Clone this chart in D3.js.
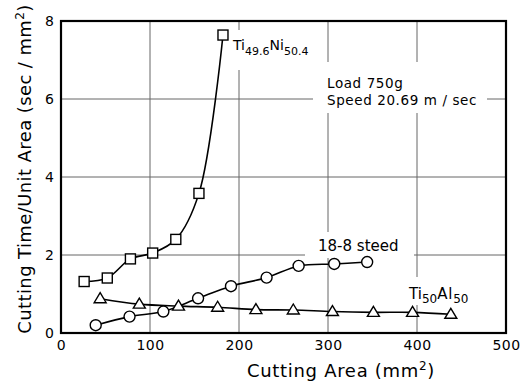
<!DOCTYPE html>
<html>
<head>
<meta charset="utf-8">
<script src="https://cdn.jsdelivr.net/npm/d3@7"></script>
<style>
  body { margin: 0; background: #fff; }
  svg { font-family: 'DejaVu Sans', sans-serif; }
</style>
</head>
<body>
<div id="chart"></div>
<script>
// Ti49.6Ni50.4 (squares)
const tiNiX = [26, 52, 78, 103, 129, 155, 182];
const tiNiY = [1.32, 1.41, 1.9, 2.05, 2.4, 3.58, 7.64];
// 18-8 steed (circles)
const steelX = [39, 77, 115, 154, 191, 231, 267, 307, 344];
const steelY = [0.2, 0.42, 0.55, 0.89, 1.2, 1.42, 1.72, 1.77, 1.82];
// Ti50Al50 (triangles)
const tiAlX = [44, 88, 132, 176, 219, 261, 305, 351, 395, 438];
const tiAlY = [0.88, 0.74, 0.69, 0.66, 0.6, 0.59, 0.55, 0.53, 0.53, 0.48];

const xTicks = [0, 100, 200, 300, 400, 500];
const yTicks = [0, 2, 4, 6, 8];

const width = 529, height = 388;
const margin = { top: 21, right: 23, bottom: 55, left: 61 };

const svg = d3.select('#chart')
  .append('svg')
  .attr('width', width)
  .attr('height', height);

const x = d3.scaleLinear()
  .domain([0, 500])
  .range([margin.left, width - margin.right]);

const y = d3.scaleLinear()
  .domain([0, 8])
  .range([height - margin.bottom, margin.top]);

// grid
svg.append('g')
  .selectAll('line')
  .data(xTicks.slice(1, -1))
  .enter()
  .append('line')
  .attr('x1', d => x(d)).attr('x2', d => x(d))
  .attr('y1', y(8)).attr('y2', y(0))
  .attr('stroke', '#666')
  .attr('stroke-width', 1);

svg.append('g')
  .selectAll('line')
  .data(yTicks.slice(1, -1))
  .enter()
  .append('line')
  .attr('x1', x(0)).attr('x2', x(500))
  .attr('y1', d => y(d)).attr('y2', d => y(d))
  .attr('stroke', '#666')
  .attr('stroke-width', 1);

// white patches behind the labels
function patch(x0, y0, x1, y1) {
  svg.append('rect')
    .attr('x', x0).attr('y', y0)
    .attr('width', x1 - x0).attr('height', y1 - y0)
    .attr('fill', '#fff');
}
patch(229, 30, 318, 70);
patch(313, 62, 487, 113);
patch(305, 232, 414, 258);
patch(403, 277, 475, 305);

// frame
svg.append('rect')
  .attr('x', x(0)).attr('y', y(8))
  .attr('width', x(500) - x(0))
  .attr('height', y(0) - y(8))
  .attr('fill', 'none')
  .attr('stroke', '#000')
  .attr('stroke-width', 2.2);

// axes
const xAxis = svg.append('g')
  .attr('transform', `translate(0,${y(0)})`)
  .call(d3.axisBottom(x).tickValues(xTicks).tickSize(0).tickPadding(7));
xAxis.select('.domain').remove();
xAxis.selectAll('text').style('font-size', '14px').style('font-family', 'DejaVu Sans')
  .style('letter-spacing', '0.5px').attr('fill', '#000');

const yAxis = svg.append('g')
  .attr('transform', `translate(${x(0)},0)`)
  .call(d3.axisLeft(y).tickValues(yTicks).tickSize(0).tickPadding(7));
yAxis.select('.domain').remove();
yAxis.selectAll('text').style('font-size', '14px').style('font-family', 'DejaVu Sans').attr('fill', '#000');

// axis titles
const xt = svg.append('text')
  .attr('x', 341).attr('y', 377)
  .attr('text-anchor', 'middle')
  .style('font-size', '18px')
  .style('letter-spacing', '0.7px');
xt.append('tspan').text('Cutting Area (mm');
xt.append('tspan').attr('dy', -7).style('font-size', '12px').text('2');
xt.append('tspan').attr('dy', 7).text(')');

const yt = svg.append('text')
  .attr('transform', 'translate(31,169) rotate(-90)')
  .attr('text-anchor', 'middle')
  .style('font-size', '18px')
  .style('letter-spacing', '0.4px');
yt.append('tspan').text('Cutting Time/Unit Area (sec / mm');
yt.append('tspan').attr('dy', -7).style('font-size', '12px').text('2');
yt.append('tspan').attr('dy', 7).text(')');

// series lines
const line = d3.line()
  .x(d => x(d[0]))
  .y(d => y(d[1]))
  .curve(d3.curveCatmullRom.alpha(0.5));

const tiNi = tiNiX.map((v, i) => [v, tiNiY[i]]);
const steel = steelX.map((v, i) => [v, steelY[i]]);
const tiAl = tiAlX.map((v, i) => [v, tiAlY[i]]);

[tiNi, steel, tiAl].forEach(s => {
  svg.append('path')
    .attr('d', line(s))
    .attr('fill', 'none')
    .attr('stroke', '#000')
    .attr('stroke-width', 1.6);
});

// markers
svg.selectAll('.sq')
  .data(tiNi)
  .enter()
  .append('rect')
  .attr('x', d => x(d[0]) - 5)
  .attr('y', d => y(d[1]) - 5)
  .attr('width', 10).attr('height', 10)
  .attr('fill', '#fff')
  .attr('stroke', '#000')
  .attr('stroke-width', 1.4);

svg.selectAll('.ci')
  .data(steel)
  .enter()
  .append('circle')
  .attr('cx', d => x(d[0]))
  .attr('cy', d => y(d[1]))
  .attr('r', 5.5)
  .attr('fill', '#fff')
  .attr('stroke', '#000')
  .attr('stroke-width', 1.4);

svg.selectAll('.tr')
  .data(tiAl)
  .enter()
  .append('path')
  .attr('transform', d => `translate(${x(d[0])},${y(d[1])})`)
  .attr('d', 'M0,-6L6,4L-6,4Z')
  .attr('fill', '#fff')
  .attr('stroke', '#000')
  .attr('stroke-width', 1.4);

// labels
const l1 = svg.append('text').attr('x', 233).attr('y', 50).style('font-size', '14px');
l1.append('tspan').text('Ti');
l1.append('tspan').attr('dy', 5).style('font-size', '11px').text('49.6');
l1.append('tspan').attr('dy', -5).text('Ni');
l1.append('tspan').attr('dy', 5).style('font-size', '11px').text('50.4');

svg.append('text').attr('x', 327).attr('y', 88)
  .style('font-size', '13.5px').style('letter-spacing', '0.6px').text('Load 750g');
svg.append('text').attr('x', 327).attr('y', 105)
  .style('font-size', '13.5px').style('letter-spacing', '0.6px').text('Speed 20.69 m / sec');

svg.append('text').attr('x', 318).attr('y', 251).style('font-size', '15px').text('18-8 steed');

const l4 = svg.append('text').attr('x', 409).attr('y', 299).style('font-size', '15px');
l4.append('tspan').text('Ti');
l4.append('tspan').attr('dy', 4).style('font-size', '12px').text('50');
l4.append('tspan').attr('dy', -4).style('letter-spacing', '0.8px').text('Al');
l4.append('tspan').attr('dy', 4).style('font-size', '12px').text('50');
</script>
</body>
</html>
